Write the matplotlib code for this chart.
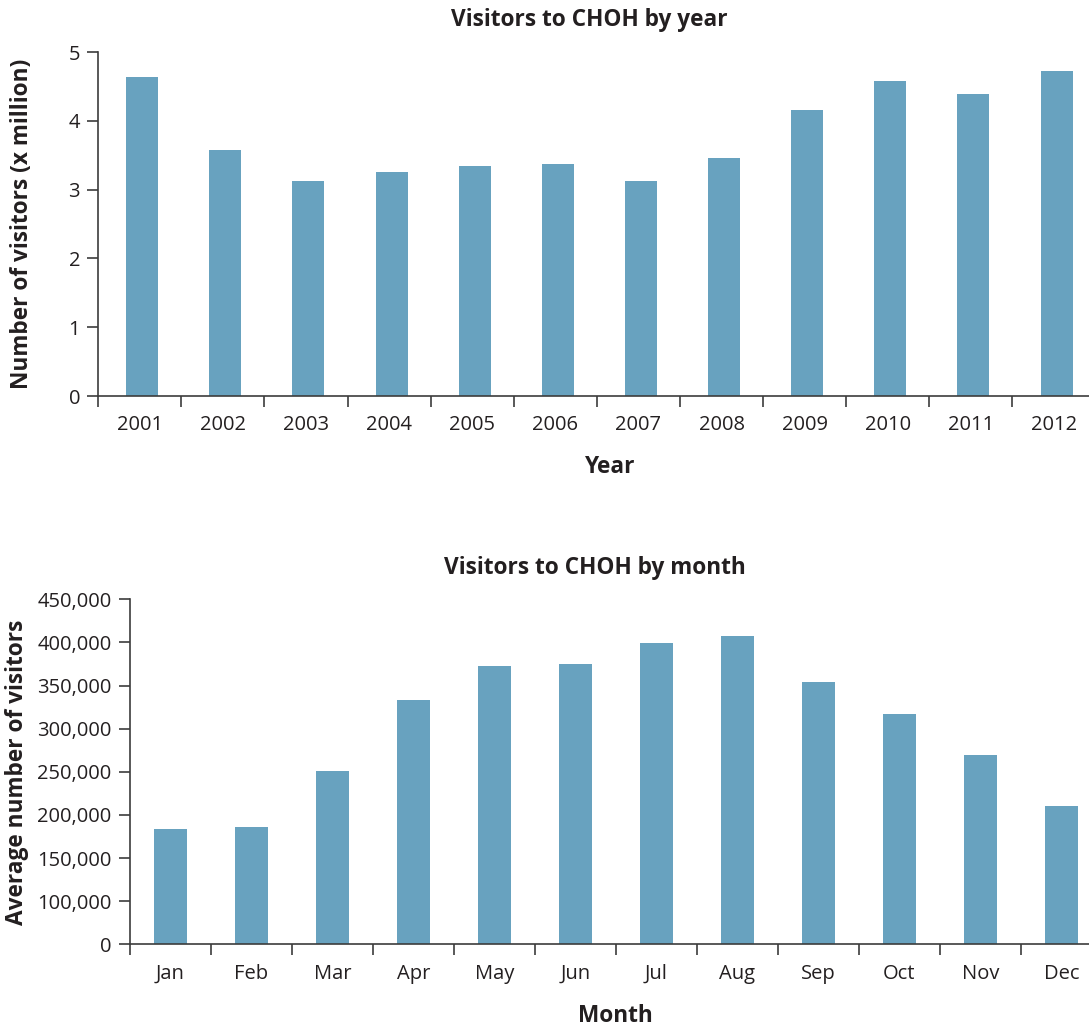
import matplotlib
matplotlib.use("Agg")
import matplotlib.pyplot as plt
import numpy as np

plt.rcParams['font.family'] = ['Open Sans', 'DejaVu Sans']

years = ['2001', '2002', '2003', '2004', '2005', '2006', '2007', '2008', '2009', '2010', '2011', '2012']
visitors_year = [4.64, 3.58, 3.125, 3.26, 3.34, 3.37, 3.125, 3.46, 4.16, 4.58, 4.39, 4.72]

months = ['Jan', 'Feb', 'Mar', 'Apr', 'May', 'Jun', 'Jul', 'Aug', 'Sep', 'Oct', 'Nov', 'Dec']
visitors_month = [183500, 185800, 250800, 333200, 372600, 375000, 399300, 407400, 354000, 317000, 269400, 210200]

year_ticks = [0, 1, 2, 3, 4, 5]
month_tick_values = [50000, 100000, 150000, 200000, 250000, 300000, 350000, 400000, 450000]
month_tick_labels = ['0', '100,000', '150,000', '200,000', '250,000', '300,000', '350,000', '400,000', '450,000']

BAR = '#68A2BF'
TXT = '#231F20'
AX = '#3C3C3C'
W, H = 1089, 1026
TICK_FS = 14.5
LAB_FS = 16.3
fig = plt.figure(figsize=(W / 100, H / 100), dpi=100)

def px_axes(l, t, r, b):
    return fig.add_axes([l / W, 1 - b / H, (r - l) / W, (b - t) / H])

def style(ax, n):
    for s in ['top', 'right']:
        ax.spines[s].set_visible(False)
    for s in ['left', 'bottom']:
        ax.spines[s].set_color(AX)
        ax.spines[s].set_linewidth(1.2)
    ax.set_xlim(0, n)
    ax.set_xticks(np.arange(n) + 0.5)
    ax.set_xticks(np.arange(n + 1), minor=True)
    ax.tick_params(axis='x', which='major', length=0, pad=14, labelsize=TICK_FS, labelcolor=TXT)
    ax.tick_params(axis='x', which='minor', length=8, width=1.2, color=AX, direction='out')
    ax.tick_params(axis='y', length=8, width=1.2, color=AX, direction='out', labelsize=TICK_FS,
                   labelcolor=TXT, pad=5)

# Top chart
ax1 = px_axes(98.2, 52, 1095.6, 396)
x = np.arange(len(years)) + 0.53
ax1.bar(x, visitors_year, width=0.385, color=BAR)
style(ax1, len(years))
ax1.set_xticklabels(years)
ax1.set_ylim(0, 5)
ax1.set_yticks(year_ticks)
fig.text(589 / W, 1 - 20 / H, 'Visitors to CHOH by year', ha='center', va='center',
         fontsize=LAB_FS, fontweight='bold', color=TXT)
fig.text(610 / W, 1 - 467 / H, 'Year', ha='center', va='center',
         fontsize=LAB_FS, fontweight='bold', color=TXT)
fig.text(22 / W, 1 - 224 / H, 'Number of visitors (x million)', ha='center', va='center',
         rotation=90, fontsize=LAB_FS, fontweight='bold', color=TXT)

# Bottom chart
ax2 = px_axes(129.8, 599.3, 1101.8, 944.3)
x2 = np.arange(len(months)) + 0.5
ax2.bar(x2, visitors_month, width=0.407, color=BAR)
style(ax2, len(months))
ax2.set_xticklabels(months)
ax2.set_ylim(50000, 450000)
ax2.set_yticks(month_tick_values)
ax2.set_yticklabels(month_tick_labels)
fig.text(595 / W, 1 - 568 / H, 'Visitors to CHOH by month', ha='center', va='center',
         fontsize=LAB_FS, fontweight='bold', color=TXT)
fig.text(615 / W, 1 - 1016 / H, 'Month', ha='center', va='center',
         fontsize=LAB_FS, fontweight='bold', color=TXT)
fig.text(17 / W, 1 - 772 / H, 'Average number of visitors', ha='center', va='center',
         rotation=90, fontsize=LAB_FS, fontweight='bold', color=TXT)

fig.savefig('out.png', dpi=100, facecolor='white')
